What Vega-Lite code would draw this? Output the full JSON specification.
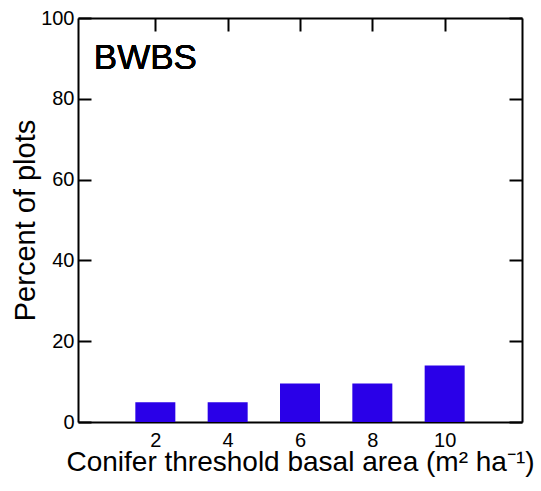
{
  "$schema": "https://vega.github.io/schema/vega-lite/v6.json",
  "autosize": "none",
  "width": 444,
  "height": 404,
  "padding": {"left": 78, "top": 18, "right": 19, "bottom": 69},
  "background": "white",
  "config": {
    "view": {"stroke": null},
    "font": "Liberation Sans",
    "axis": {
      "grid": false,
      "domainColor": "black",
      "domainWidth": 2,
      "tickColor": "black",
      "tickWidth": 2,
      "tickSize": -13,
      "labelFont": "Liberation Sans",
      "labelFontSize": 20,
      "labelColor": "black",
      "titleFont": "Liberation Sans",
      "titleFontSize": 28,
      "titleFontWeight": "normal",
      "titleColor": "black"
    }
  },
  "data": {
    "values": [
      {"threshold": 2, "percent": 4.9},
      {"threshold": 4, "percent": 4.9},
      {"threshold": 6, "percent": 9.5},
      {"threshold": 8, "percent": 9.5},
      {"threshold": 10, "percent": 14}
    ]
  },
  "layer": [
    {
      "mark": {"type": "bar", "size": 40, "color": "#2a00e8"},
      "encoding": {
        "x": {
          "field": "threshold", "type": "quantitative",
          "scale": {"domain": [0, 12], "nice": false, "zero": false},
          "axis": {
            "orient": "bottom", "values": [2, 4, 6, 8, 10],
            "title": "Conifer threshold basal area (m² ha⁻¹)",
            "labelPadding": 21, "labelBaseline": "top",
            "titleBaseline": "alphabetic", "titleY": 48, "zindex": 0
          }
        },
        "y": {
          "field": "percent", "type": "quantitative",
          "scale": {"domain": [0, 100], "nice": false},
          "axis": {
            "orient": "left", "values": [0, 20, 40, 60, 80, 100],
            "title": "Percent of plots",
            "titleFontSize": 29,
            "labelPadding": 17, "labelBaseline": "middle",
            "titleBaseline": "alphabetic", "titleX": -44, "zindex": 0
          }
        }
      }
    },
    {
      "mark": {"type": "bar", "size": 40, "opacity": 0},
      "encoding": {
        "x": {
          "field": "threshold", "type": "quantitative",
          "axis": {"orient": "top", "values": [2, 4, 6, 8, 10], "labels": false, "title": null}
        },
        "y": {
          "field": "percent", "type": "quantitative",
          "axis": {"orient": "right", "values": [0, 20, 40, 60, 80, 100], "labels": false, "title": null}
        }
      }
    },
    {
      "mark": {"type": "text", "text": "BWBS", "fontSize": 35, "align": "left", "baseline": "alphabetic", "letterSpacing": -1.8, "color": "black", "font": "Liberation Sans"},
      "encoding": {
        "x": {"datum": 0.3, "type": "quantitative", "axis": null},
        "y": {"datum": 87.3, "type": "quantitative", "axis": null}
      }
    }
  ],
  "resolve": {"axis": {"x": "independent", "y": "independent"}}
}
